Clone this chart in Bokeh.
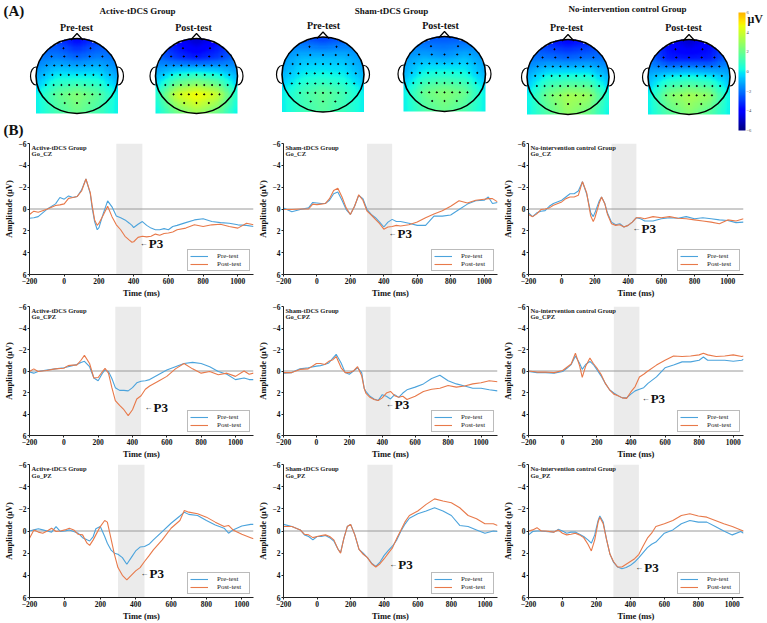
import numpy as np
from bokeh.plotting import figure
from bokeh.models import (Range1d, Span, BoxAnnotation, Legend, LegendItem, ColorBar,
                          LinearColorMapper, FixedTicker)
from bokeh.layouts import column, row
from bokeh.embed import file_html
from bokeh.resources import INLINE
from bokeh.core.properties import value

SERIF = "Liberation Serif"
BLUE = "#4ba3dc"
ORANGE = "#e8794a"

# ---------------- data ----------------
groups = ["Active-tDCS Group", "Sham-tDCS Group", "No-intervention control Group"]
sites = ["Go_CZ", "Go_CPZ", "Go_PZ"]
conditions = ["Pre-test", "Post-test"]
x_ticks = [-200, 0, 200, 400, 600, 800, 1000]
y_ticks = [-6, -4, -2, 0, 2, 4, 6]
cbar_ticks = [-6, -4, -2, 0, 2, 4, 6]
p3_window = [300, 450]

# topographic maps (uV), rows front -> back, columns left -> right
topo_active_pre = [[-2.5, -3.0, -4.0, -3.0, -2.5],
                   [-2.0, -1.8, -2.2, -1.8, -2.0],
                   [-1.2, 0.0, 0.0, 0.0, -1.2],
                   [0.0, 1.8, 2.5, 1.8, 0.0],
                   [0.0, 1.2, 2.0, 1.2, 0.0]]
topo_active_post = [[-3.0, -4.0, -5.0, -4.0, -3.0],
                    [-2.0, -3.0, -3.5, -3.0, -2.0],
                    [-1.0, 0.5, 1.0, 0.5, -1.0],
                    [0.5, 4.0, 5.0, 4.0, 0.5],
                    [0.0, 2.0, 3.0, 2.0, 0.0]]
topo_sham_pre = [[-2.0, -2.5, -3.0, -2.5, -2.0],
                 [-1.5, -1.0, -1.0, -1.0, -1.5],
                 [-1.0, 0.0, 0.2, 0.0, -1.0],
                 [0.0, 1.2, 1.8, 1.2, 0.0],
                 [0.0, 1.0, 1.6, 1.0, 0.0]]
topo_sham_post = [[-2.0, -2.5, -2.5, -2.5, -2.0],
                  [-1.5, -1.2, -1.5, -1.0, -1.5],
                  [-1.0, 0.3, 0.5, 0.3, -1.0],
                  [0.0, 2.0, 2.5, 2.0, 0.0],
                  [0.0, 1.3, 2.0, 1.3, 0.0]]
topo_noint_pre = [[-2.5, -3.5, -4.0, -3.5, -2.5],
                  [-2.0, -2.0, -2.2, -2.0, -2.0],
                  [-1.0, 0.3, 0.5, 0.5, -1.0],
                  [0.0, 2.2, 3.2, 3.0, 0.3],
                  [0.0, 1.5, 2.8, 2.0, 0.0]]
topo_noint_post = [[-3.0, -4.0, -5.0, -4.0, -3.0],
                   [-2.0, -3.5, -3.5, -3.5, -2.0],
                   [-1.0, 0.0, 0.3, 0.0, -1.0],
                   [0.0, 2.5, 3.2, 2.8, 0.0],
                   [0.0, 1.5, 2.5, 1.5, 0.0]]

# ERP waveforms (time in ms, amplitude in uV)
t_act_cz = [-200, -175, -150, -100, -50, -25, 0, 25, 50, 75, 100, 125, 150, 160, 175, 190, 200, 225, 250, 275,
            300, 325, 350, 375, 390, 400, 425, 450, 475, 500, 525, 550, 575, 600, 625, 650, 700, 750, 800, 850,
            900, 950, 1000, 1050, 1090]
act_cz_pre = [0.85, 0.8, 0.7, 0.03, -0.47, -1.05, -0.9, -1.2, -1.05, -1.15, -1.75, -2.75, -1.4, -0.2, 1.15, 1.9, 1.7, 0.4, -0.75, -0.2,
              0.65, 0.8, 1.0, 1.3, 1.5, 1.7, 1.4, 1.15, 1.5, 1.75, 1.9, 1.9, 1.8, 1.9, 1.6, 1.5, 1.25, 1.0, 0.9, 1.15,
              1.25, 1.3, 1.45, 1.5, 1.6]
act_cz_post = [0.5, 0.2, 0.3, 0.03, -0.32, -0.38, -0.47, -0.97, -1.05, -1.15, -1.65, -2.75, -1.5, -0.4, 1.0, 1.5, 1.3, 0.55, -0.25, 0.7,
               1.45, 1.9, 2.5, 2.85, 3.05, 3.0, 2.6, 2.5, 2.55, 2.5, 2.3, 2.4, 2.25, 2.2, 2.1, 1.9, 1.75, 1.45, 1.6, 1.45,
               1.4, 1.6, 1.75, 1.3, 1.45]

t_sham_cz = [-200, -150, -100, -50, -25, 0, 25, 50, 75, 100, 125, 150, 175, 200, 225, 250, 275, 300, 325, 350,
             375, 400, 425, 450, 475, 500, 550, 600, 650, 700, 750, 800, 850, 900, 950, 1000, 1025, 1050, 1080]
sham_cz_pre = [-0.1, 0.25, 0.05, -0.1, -0.6, -0.55, -0.5, -0.5, -0.8, -1.4, -1.55, -0.8, 0.05, 0.5, -0.25, -1.25, -0.95, 0.05, 0.5, 0.8,
               1.2, 1.65, 1.2, 0.95, 1.15, 1.15, 1.3, 1.5, 1.5, 0.65, 0.65, 0.55, 0.05, -0.45, -0.75, -0.8, -1.1, -0.5, -0.6]
sham_cz_post = [0.05, 0.05, 0.0, 0.0, -0.45, -0.4, -0.45, -0.5, -0.95, -1.7, -1.9, -1.1, -0.1, 0.5, -0.25, -1.3, -0.8, 0.2, 0.55, 0.95,
                1.35, 1.85, 1.65, 1.6, 1.5, 1.55, 1.45, 1.2, 0.8, 0.45, 0.15, -0.25, -0.75, -0.55, -0.8, -0.9, -0.95, -0.95, -0.65]

t_noint_cz = [-200, -175, -150, -125, -100, -75, -50, 0, 25, 50, 75, 100, 125, 150, 175, 190, 200, 225, 240, 260,
              275, 300, 325, 350, 375, 400, 425, 450, 475, 500, 550, 600, 650, 700, 750, 800, 850, 900, 950, 1000,
              1050, 1095]
noint_cz_pre = [0.35, 0.7, 0.35, 0.2, 0.15, -0.25, -0.5, -0.8, -1.1, -1.4, -1.4, -1.65, -2.5, -1.4, 0.35, 0.7, 0.35, -0.7, -1.1, -0.5,
                0.35, 1.2, 1.45, 1.35, 1.65, 1.5, 1.2, 0.8, 0.9, 1.1, 1.1, 0.9, 0.8, 0.85, 0.7, 0.9, 0.8, 0.9, 1.0, 1.05,
                1.25, 1.2]
noint_cz_post = [0.5, 0.7, 0.45, 0.05, 0.0, -0.1, -0.35, -0.65, -0.95, -1.1, -1.1, -1.25, -2.5, -1.5, 0.65, 1.15, 0.8, -0.5, -1.1, -0.45,
                 0.45, 1.35, 1.5, 1.45, 1.65, 1.5, 1.2, 0.8, 0.8, 0.9, 0.7, 0.8, 0.7, 0.85, 0.9, 1.0, 1.1, 1.2, 1.35, 1.0,
                 1.1, 0.9]

t_act_cpz = [-200, -175, -150, -100, -50, 0, 25, 50, 75, 100, 120, 150, 175, 200, 225, 240, 260, 280, 300, 325,
             350, 375, 400, 425, 450, 475, 500, 550, 600, 650, 700, 750, 800, 850, 900, 950, 1000, 1050, 1080, 1105]
act_cpz_pre = [0.1, 0.2, 0.05, -0.1, -0.2, -0.3, -0.4, -0.5, -0.6, -0.8, -0.9, -0.4, 0.65, 0.9, 0.2, -0.1, 0.05, 0.7, 1.55, 1.8,
               1.8, 1.85, 1.55, 1.1, 0.95, 0.9, 0.8, 0.35, -0.1, -0.4, -0.7, -0.8, -0.7, -0.4, 0.05, 0.3, 0.8, 0.65, 0.8, 0.8]
act_cpz_post = [0.05, -0.2, 0.05, -0.05, -0.2, -0.25, -0.5, -0.55, -0.55, -1.0, -1.45, -0.7, 0.65, 0.6, 0.05, -0.25, 0.2, 1.55, 2.75, 3.2,
                3.6, 4.15, 3.6, 2.6, 2.3, 1.7, 1.4, 0.95, 0.5, -0.2, -0.7, -0.2, 0.2, 0.05, 0.35, 0.2, 0.5, 0.0, 0.3, 0.2]

t_sham_cpz = [-200, -150, -100, -50, 0, 25, 50, 75, 100, 120, 150, 175, 200, 225, 250, 275, 290, 300, 325, 350,
              375, 400, 425, 450, 475, 500, 525, 550, 600, 650, 700, 750, 800, 850, 900, 950, 1000, 1050, 1100]
sham_cpz_pre = [0.2, 0.15, -0.2, -0.3, -0.45, -0.5, -0.6, -0.75, -1.2, -1.55, -0.75, 0.15, 0.3, 0.0, -0.3, 0.15, 1.6, 1.9, 2.35, 2.6,
                2.75, 2.2, 2.35, 2.6, 2.2, 2.45, 2.05, 1.75, 1.5, 1.2, 0.7, 0.4, 0.9, 1.2, 1.4, 1.6, 1.6, 1.75, 1.85]
sham_cpz_post = [0.15, 0.15, -0.15, -0.2, -0.7, -0.7, -0.6, -0.9, -1.05, -1.35, -0.3, 0.15, 0.15, 0.0, -0.4, 0.45, 1.6, 2.05, 2.45, 2.65,
                 2.75, 2.5, 2.05, 1.9, 2.3, 2.45, 2.35, 2.65, 2.35, 1.9, 1.7, 1.6, 1.35, 1.5, 1.4, 1.2, 1.1, 0.9, 1.0]

t_noint_cpz = [-200, -150, -100, -50, 0, 25, 50, 75, 100, 115, 135, 160, 180, 200, 225, 250, 275, 300, 325, 350,
               375, 400, 425, 450, 475, 500, 550, 600, 650, 700, 750, 800, 825, 850, 900, 950, 1000, 1050, 1060]
noint_cpz_pre = [0.05, 0.15, 0.15, 0.2, 0.05, -0.25, -0.6, -1.4, -0.7, -0.15, -0.6, -0.9, -0.6, -0.15, 0.45, 1.15, 1.75, 2.05, 2.3, 2.5,
                 2.5, 2.15, 1.85, 1.7, 1.55, 1.15, 0.55, -0.3, -0.55, -0.85, -0.85, -1.0, -1.3, -1.0, -1.0, -1.0, -0.9, -1.0, -1.1]
noint_cpz_post = [0.0, 0.1, 0.1, 0.15, -0.05, -0.35, -0.65, -1.65, -0.45, 0.6, -0.45, -1.2, -0.7, -0.3, 0.3, 1.15, 1.75, 2.15, 2.3, 2.5,
                  2.55, 1.95, 1.45, 0.55, 0.3, 0.0, -0.55, -1.0, -1.4, -1.35, -1.4, -1.5, -1.65, -1.5, -1.35, -1.4, -1.5, -1.35, -1.4]

t_act_pz = [-200, -175, -150, -125, -100, -75, -50, -25, 0, 25, 50, 75, 100, 125, 140, 160, 175, 200, 225, 240,
            260, 280, 300, 325, 350, 375, 400, 425, 450, 475, 500, 550, 600, 650, 675, 700, 750, 800, 850, 900,
            925, 950, 1000, 1050, 1066]
act_pz_pre = [0.0, -0.1, -0.2, -0.1, 0.0, 0.1, -0.4, 0.05, 0.0, -0.1, 0.05, 0.2, 0.6, 0.8, 0.9, 0.5, -0.2, -0.4, 0.5, 1.1,
              1.7, 2.0, 2.1, 2.4, 3.0, 2.4, 1.8, 1.45, 1.4, 1.2, 0.8, 0.05, -0.7, -1.35, -1.7, -1.5, -1.4, -0.95, -0.55, -0.25,
              0.2, -0.1, -0.45, -0.6, -0.6]
act_pz_post = [0.65, -0.1, 0.1, 0.2, 0.0, -0.25, 0.05, 0.0, -0.1, -0.25, -0.1, 0.3, 0.35, 1.1, 1.3, 0.8, 0.35, -0.4, -0.95, -0.8,
               0.65, 2.1, 3.3, 4.0, 4.4, 4.0, 3.6, 3.3, 2.75, 2.25, 1.7, 0.8, -0.25, -0.95, -1.85, -1.7, -1.55, -1.25, -0.8, -0.4,
               -0.5, -0.1, 0.3, 0.6, 0.7]

t_sham_pz = [-200, -150, -100, -75, -50, -25, 0, 25, 50, 75, 100, 125, 140, 160, 180, 200, 225, 250, 275, 300,
             325, 350, 375, 400, 425, 450, 475, 500, 525, 550, 600, 650, 700, 750, 800, 850, 900, 950, 1000, 1050, 1075]
sham_pz_pre = [-0.6, -0.4, -0.1, 0.35, 0.5, 0.8, 0.5, 0.5, 0.4, 0.6, 0.9, 1.65, 1.95, 0.65, -0.4, -0.6, 0.35, 1.65, 2.0, 2.4,
               2.9, 3.2, 2.8, 2.2, 1.75, 1.35, 0.8, 0.0, -0.65, -1.15, -1.55, -1.8, -2.1, -1.8, -1.4, -0.5, -0.4, -0.1, 0.2, 0.0, 0.05]
sham_pz_post = [-0.4, -0.4, -0.1, 0.3, 0.35, 0.6, 0.5, 0.4, 0.35, 0.5, 0.8, 1.65, 2.0, 0.65, -0.4, -0.6, 0.35, 1.65, 2.1, 2.4,
                2.95, 3.25, 2.95, 2.5, 2.0, 1.5, 0.65, -0.1, -0.85, -1.4, -1.8, -2.4, -2.9, -2.7, -2.55, -2.1, -1.4, -1.1, -0.65, -0.65, -0.5]

t_noint_pz = [-200, -175, -150, -125, -100, -50, -25, 0, 25, 50, 75, 100, 125, 150, 170, 190, 210, 220, 240, 260,
              280, 300, 325, 350, 375, 400, 425, 450, 475, 500, 525, 550, 600, 650, 700, 750, 800, 850, 900, 950,
              1000, 1050, 1066]
noint_pz_pre = [0.35, 0.05, 0.0, 0.0, 0.05, 0.1, -0.15, 0.0, 0.2, 0.1, 0.1, 0.3, 0.5, 0.8, 1.1, 0.35, -0.95, -1.35, -0.8, 0.8,
                2.1, 2.8, 3.25, 3.4, 3.3, 3.1, 2.8, 2.4, 1.95, 1.5, 1.2, 1.0, 0.2, -0.1, -0.65, -0.95, -0.8, -0.8, -0.4, 0.0,
                0.35, 0.05, 0.2]
noint_pz_post = [0.0, -0.1, -0.3, 0.0, 0.0, 0.1, -0.1, 0.2, 0.35, 0.3, 0.2, 0.35, 0.6, 1.2, 1.8, 0.8, -0.8, -1.25, -0.65, 0.8,
                 2.1, 2.75, 3.25, 3.25, 3.0, 2.75, 2.5, 2.1, 1.35, 0.65, 0.2, -0.4, -0.65, -0.95, -1.4, -1.55, -1.35, -1.25, -0.95, -0.65,
                 -0.4, -0.1, 0.0]

# position of each "P3" marker (ms, uV)
p3_marks = [[(435, 3.2), (428, 2.2), (427, 1.8)],
            [(470, 3.4), (421, 3.1), (463, 2.6)],
            [(428, 3.8), (430, 3.0), (429, 3.25)]]

panels = [[(t_act_cz, act_cz_pre, act_cz_post), (t_sham_cz, sham_cz_pre, sham_cz_post), (t_noint_cz, noint_cz_pre, noint_cz_post)],
          [(t_act_cpz, act_cpz_pre, act_cpz_post), (t_sham_cpz, sham_cpz_pre, sham_cpz_post), (t_noint_cpz, noint_cpz_pre, noint_cpz_post)],
          [(t_act_pz, act_pz_pre, act_pz_post), (t_sham_pz, sham_pz_pre, sham_pz_post), (t_noint_pz, noint_pz_pre, noint_pz_post)]]
topos = [topo_active_pre, topo_active_post, topo_sham_pre, topo_sham_post, topo_noint_pre, topo_noint_post]

# ---------------- colour map (jet, lower part) ----------------
def jet_palette(n=256, top=0.72):
    x = np.linspace(0, top, n)
    r = np.interp(x, [0, 0.35, 0.66, 0.89, 1], [0, 0, 1, 1, 0.5])
    g = np.interp(x, [0, 0.125, 0.375, 0.64, 0.91, 1], [0, 0, 1, 1, 0, 0])
    b = np.interp(x, [0, 0.11, 0.34, 0.65, 1], [0.5, 1, 1, 0, 0])
    return ["#%02x%02x%02x" % (int(255 * a), int(255 * c), int(255 * d)) for a, c, d in zip(r, g, b)]

mapper = LinearColorMapper(palette=jet_palette(), low=-6, high=6, nan_color=(0, 0, 0, 0))

# ---------------- top section (A) ----------------
TOP_H = 140
W = 767
top = figure(width=W, height=TOP_H, x_range=Range1d(0, W), y_range=Range1d(0, TOP_H),
             output_backend="svg", toolbar_location=None, x_axis_location=None, y_axis_location=None,
             min_border=0)
top.grid.visible = False
top.outline_line_color = None

def yd(ypx):
    return TOP_H - ypx

def smooth(a):
    k = np.array([1, 4, 6, 4, 1], float)
    k /= k.sum()
    pad = np.pad(a, 2, mode="edge")
    tmp = np.apply_along_axis(lambda r: np.convolve(r, k, mode="valid"), 1, pad)
    return np.apply_along_axis(lambda c: np.convolve(c, k, mode="valid"), 0, tmp)

def topo_image(grid, n=64):
    g = np.array(grid, float)[::-1]          # back row at the bottom
    m = g.shape[0]
    s = np.linspace(0, m - 1, n)
    tmp = np.array([np.interp(s, np.arange(m), r) for r in g])
    img = np.array([np.interp(s, np.arange(m), tmp[:, j]) for j in range(n)]).T
    img = smooth(smooth(img))
    yy, xx = np.mgrid[0:n, 0:n]
    u = (xx + 0.5) / n * 2 - 1
    v = (yy + 0.5) / n * 2 - 1
    inside = ((u ** 2 + v ** 2) <= 1) | ((v <= 0) & (np.abs(u) <= 1))
    img[~inside] = np.nan
    return img

head_centers = [(76.5, 75.5), (196, 75.5), (322.5, 74), (444, 73.5), (567.5, 76.5), (688.5, 76.5)]
RX, RY = 41, 37.5
elec_layout = [(0.74, [-0.33, 0.33]),
               (0.52, [-0.62, -0.31, 0, 0.31, 0.62]),
               (0.28, list(np.linspace(-0.74, 0.74, 9))),
               (0.03, list(np.linspace(-0.8, 0.8, 9))),
               (-0.24, list(np.linspace(-0.76, 0.76, 9))),
               (-0.49, list(np.linspace(-0.56, 0.56, 7))),
               (-0.72, [-0.3, 0, 0.3])]

for (cx, cy), grid in zip(head_centers, topos):
    for side in (-1, 1):
        top.ellipse(x=cx + side * RX, y=yd(cy), width=11, height=18, fill_color=None,
                    line_color="black", line_width=1.2)
    top.image(image=[topo_image(grid)], x=cx - RX, y=yd(cy + RY), dw=2 * RX, dh=2 * RY, color_mapper=mapper)
    top.line(x=[cx - 6, cx, cx + 6], y=[yd(cy - RY + 1.5), yd(cy - RY - 5), yd(cy - RY + 1.5)],
             line_color="black", line_width=1.2)
    top.ellipse(x=cx, y=yd(cy), width=2 * RX, height=2 * RY, fill_color=None, line_color="black", line_width=1.6)
    ex, ey = [], []
    for v, us in elec_layout:
        for u in us:
            ex.append(cx + u * RX)
            ey.append(yd(cy - v * RY))
    top.scatter(ex, ey, size=1.2, color="black")

def ttext(x, y, s, size, align="center", style="bold"):
    top.text(x=[x], y=[yd(y)], text=[s], text_font=value(SERIF), text_font_style=style,
             text_font_size=size, text_align=align, text_baseline="middle", text_color="#111")

ttext(3, 10, "(A)", "15px", align="left")
ttext(3, 129, "(B)", "15px", align="left")
group_title_pos = [(137, 10), (391, 10), (627, 8.5)]
for (gx, gy), gname in zip(group_title_pos, groups):
    ttext(gx, gy, gname, "9px")
cond_pos = [(76, 27), (193, 27), (323, 24.5), (440, 24.5), (566, 27), (683, 27)]
for i, (cxp, cyp) in enumerate(cond_pos):
    ttext(cxp, cyp, conditions[i % 2], "10px")
ttext(747, 18, "μV", "12px", align="left")

cb = ColorBar(color_mapper=mapper, ticker=FixedTicker(ticks=cbar_ticks), width=7, height=118,
              location=(738, 10), padding=0, margin=0, label_standoff=1,
              major_label_text_font_size="4.5px", major_label_text_font=SERIF,
              major_tick_line_color=None, minor_tick_line_color=None, bar_line_color=None,
              background_fill_alpha=0, border_line_color=None)
top.add_layout(cb)

# ---------------- ERP panels (B) ----------------
col_widths = [255, 245, 267]
col_left = [29, 20, 18]
col_right = [2, 3, 24]
row_heights = [160, 161, 162]
row_top = [3, 6, 3]
row_bottom = [22, 20, 24]
x_ends = [[1090, 1080, 1095], [1105, 1100, 1060], [1066, 1075, 1066]]

def style_axis(ax, label):
    ax.axis_label = label
    ax.axis_label_text_font = SERIF
    ax.axis_label_text_font_style = "bold"
    ax.axis_label_text_font_size = "8.5px"
    ax.axis_label_text_color = "#111"
    ax.axis_label_standoff = 1
    ax.major_label_text_font = SERIF
    ax.major_label_text_font_style = "bold"
    ax.major_label_text_font_size = "7.5px"
    ax.major_label_text_color = "#111"
    ax.major_label_standoff = 1
    ax.major_tick_out = 2
    ax.major_tick_in = 0
    ax.minor_tick_line_color = None
    ax.axis_line_color = "#222"
    ax.major_tick_line_color = "#222"

rows = []
for ri in range(3):
    figs = []
    for ci in range(3):
        t, pre, post = panels[ri][ci]
        p = figure(width=col_widths[ci], height=row_heights[ri],
                   x_range=Range1d(-200, x_ends[ri][ci]), y_range=Range1d(6, -6),
                   output_backend="svg", toolbar_location=None,
                   min_border_left=col_left[ci], min_border_right=col_right[ci],
                   min_border_top=row_top[ri], min_border_bottom=row_bottom[ri])
        p.grid.visible = False
        p.outline_line_color = None
        p.background_fill_color = "white"
        p.border_fill_color = "white"
        p.add_layout(BoxAnnotation(left=p3_window[0], right=p3_window[1], fill_color="#ebebeb",
                                   fill_alpha=1, line_color=None, level="underlay"))
        p.add_layout(Span(location=0, dimension="width", line_color="#9a9a9a", line_width=1, level="underlay"))
        r_pre = p.line(t, pre, line_color=BLUE, line_width=1.1)
        r_post = p.line(t, post, line_color=ORANGE, line_width=1.1)
        p.xaxis.ticker = FixedTicker(ticks=x_ticks)
        p.yaxis.ticker = FixedTicker(ticks=y_ticks)
        style_axis(p.xaxis[0], "Time (ms)")
        style_axis(p.yaxis[0], "Amplitude (μV)")
        p.text(x=[-188], y=[-5.65], text=[groups[ci]], text_font=value(SERIF), text_font_style="bold",
               text_font_size="6.5px", text_baseline="middle", text_color="#222")
        p.text(x=[-188], y=[-5.05], text=[sites[ri]], text_font=value(SERIF), text_font_style="bold",
               text_font_size="6.5px", text_baseline="middle", text_color="#222")
        mx, my = p3_marks[ri][ci]
        p.text(x=[mx], y=[my], text=["←"], text_font=value(SERIF), text_font_size="8px",
               text_baseline="middle", text_color="#222")
        p.text(x=[mx], y=[my], text=["P3"], text_font=value(SERIF), text_font_style="bold",
               text_font_size="13px", text_baseline="middle", text_color="#111", x_offset=9)
        legend = Legend(items=[LegendItem(label=conditions[0], renderers=[r_pre]),
                               LegendItem(label=conditions[1], renderers=[r_post])],
                        location="bottom_right", orientation="vertical",
                        label_text_font=SERIF, label_text_font_size="7px", label_text_color="#222",
                        glyph_width=18, glyph_height=6, label_height=6, label_width=30, label_standoff=9,
                        spacing=0, padding=2, margin=3,
                        border_line_color="#777", border_line_width=1,
                        background_fill_color="white", background_fill_alpha=1)
        p.add_layout(legend)
        figs.append(p)
    rows.append(row(*figs, spacing=0))

layout = column(top, *rows, spacing=0)
open("out.html", "w").write(file_html(layout, INLINE))
